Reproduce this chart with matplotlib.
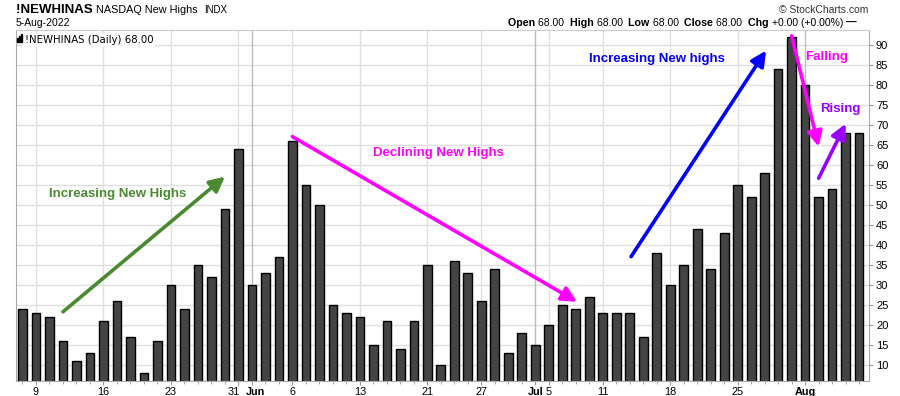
import numpy as np
import pandas as pd
import matplotlib
matplotlib.use('Agg')
import matplotlib.pyplot as plt
from matplotlib.transforms import ScaledTranslation
from matplotlib.patches import Rectangle

plt.rcParams['font.family'] = ['Liberation Sans', 'DejaVu Sans']

# Data: NASDAQ new highs, daily, 6-May-2022 .. 5-Aug-2022
holidays = ['2022-05-30', '2022-06-20', '2022-07-04']
dates = pd.bdate_range('2022-05-06', '2022-08-05')
dates = dates[~dates.isin(pd.to_datetime(holidays))]

values = [24, 23, 22, 16, 11, 13, 21, 26, 17, 8, 16, 30, 24, 35, 32, 49,
          64, 30, 33, 37, 66, 55, 50, 25, 23, 22, 15, 21, 14, 21, 35, 10,
          36, 33, 26, 34, 13, 18, 15, 20, 25, 24, 27, 23, 23, 23, 17, 38,
          30, 35, 44, 34, 43, 55, 52, 58, 84, 92, 80, 52, 54, 68, 68]

tick_dates = ['2022-05-09', '2022-05-16', '2022-05-23', '2022-05-31', '2022-06-01',
              '2022-06-06', '2022-06-13', '2022-06-21', '2022-06-27', '2022-07-01',
              '2022-07-05', '2022-07-11', '2022-07-18', '2022-07-25', '2022-08-01']
tick_labels = ['9', '16', '23', '31', 'Jun', '6', '13', '21', '27', 'Jul',
               '5', '11', '18', '25', 'Aug']
month_labels = ['Jun', 'Jul', 'Aug']

y_ticks = list(range(10, 95, 5))

# Annotations: (start idx, start val, end idx, end val, colour)
arrows = [
    (3.0, 23.3, 15.0, 57.1, '#4a8a30'),
    (20.0, 67.1, 41.1, 25.8, '#ff00ff'),
    (45.1, 37.1, 55.1, 88.6, '#0000ff'),
    (57.0, 92.3, 59.0, 64.6, '#ff00ff'),
    (59.0, 56.7, 61.0, 70.3, '#9900ff'),
]
notes = [
    (7.05, 52.7, 'Increasing New Highs', '#4a8a30'),
    (30.8, 62.9, 'Declining New Highs', '#ff00ff'),
    (47.0, 86.4, 'Increasing New highs', '#0000ff'),
    (59.6, 87.1, 'Falling', '#ff00ff'),
    (60.6, 74.1, 'Rising', '#9900ff'),
]

W, H = 900, 396
fig = plt.figure(figsize=(W / 100, H / 100), dpi=100)
fig.patch.set_facecolor('white')
ax = fig.add_axes([16 / W, 1 - 381 / H, 853 / W, 351 / H])

x = np.arange(len(values))
date_idx = {d.strftime('%Y-%m-%d'): i for i, d in enumerate(dates)}
tick_pos = [date_idx[d] for d in tick_dates]

# grid
for v in y_ticks:
    ax.axhline(v, color='#e0e0e0', lw=1, zorder=0)
for p, lab in zip(tick_pos, tick_labels):
    c = '#bdbdbd' if lab in month_labels else '#e0e0e0'
    ax.axvline(p, color=c, lw=1, zorder=0)

ax.bar(x, values, width=0.64, color='#444444', edgecolor='black', linewidth=1.0, zorder=2)

ax.set_xlim(-0.48, 62.73)
ax.set_ylim(6, 93.75)

ax.yaxis.tick_right()
ax.set_yticks(y_ticks)
ax.set_yticklabels([str(v) for v in y_ticks], fontsize=8)

# "31" and "Jun" sit on adjacent days; draw them by hand, nudged apart
nudged = {'31': -3.5, 'Jun': 2.5}
ax.set_xticks(tick_pos)
ax.set_xticklabels(['' if lab in nudged else lab for lab in tick_labels], fontsize=7.8)
for t in ax.get_xticklabels():
    if t.get_text() in month_labels:
        t.set_fontweight('bold')
for p, lab in zip(tick_pos, tick_labels):
    if lab in nudged:
        tr = ax.get_xaxis_transform() + ScaledTranslation(nudged[lab] / 72, -4 / 72,
                                                           fig.dpi_scale_trans)
        ax.text(p, 0, lab, transform=tr, ha='center', va='top', fontsize=7.8,
                fontweight='bold' if lab in month_labels else 'normal')

ax.set_xticks(x, minor=True)
ax.tick_params(axis='x', which='major', length=3, color='#999999', pad=1)
ax.tick_params(axis='x', which='minor', length=2, color='#999999')
ax.tick_params(axis='y', which='major', length=3, color='#999999', pad=2)
for s in ax.spines.values():
    s.set_color('#aaaaaa')
ax.spines['top'].set_color('#cccccc')

for x0, y0, x1, y1, c in arrows:
    ax.annotate('', xy=(x1, y1), xytext=(x0, y0),
                arrowprops=dict(arrowstyle='-|>,head_length=0.9,head_width=0.45',
                                color=c, lw=2.6, shrinkA=0, shrinkB=0),
                zorder=4)
for xt, yt, s, c in notes:
    ax.text(xt, yt, s, color=c, fontsize=9.5, fontweight='bold',
            ha='center', va='center', zorder=5)

# in-chart legend label with small bar icon
ax.text(9 / 853, 0.985, '!NEWHINAS (Daily) 68.00', transform=ax.transAxes,
        family='DejaVu Sans', fontsize=7.3, va='top', ha='left',
        bbox=dict(facecolor='white', edgecolor='none', pad=1.2), zorder=6)
for xi, hi in zip([17, 19, 21], [4, 6, 8]):
    fig.add_artist(Rectangle((xi / W, 1 - 42 / H), 1.4 / W, hi / H,
                             transform=fig.transFigure, color='black', zorder=8))

renderer = fig.canvas.get_renderer()


def draw_pieces(x_px, y_px, pieces):
    xp = x_px
    for s, kw in pieces:
        t = fig.text(xp / W, 1 - y_px / H, s, ha='left', va='baseline', **kw)
        xp += t.get_window_extent(renderer).width
    return xp


draw_pieces(16, 13, [('!NEWHINAS ', dict(fontsize=9.5, fontweight='bold')),
                     ('NASDAQ New Highs  ', dict(fontsize=7.8)),
                     ('INDX', dict(fontsize=7))])
fig.text(16 / W, 1 - 26 / H, '5-Aug-2022', fontsize=7.5, va='baseline', ha='left')
fig.text(868 / W, 1 - 13 / H, '\u00a9 StockCharts.com', fontsize=7.5,
         va='baseline', ha='right', color='#333333')
b = dict(fontsize=7.7, fontweight='bold')
n = dict(fontsize=7.5)
draw_pieces(508, 26, [('Open ', b), ('68.00  ', n), ('High ', b), ('68.00  ', n),
                      ('Low ', b), ('68.00  ', n), ('Close ', b), ('68.00  ', n),
                      ('Chg ', b), ('+0.00 (+0.00%) ', n), ('\u2014', b)])

fig.savefig('out.png', dpi=100, facecolor='white')
